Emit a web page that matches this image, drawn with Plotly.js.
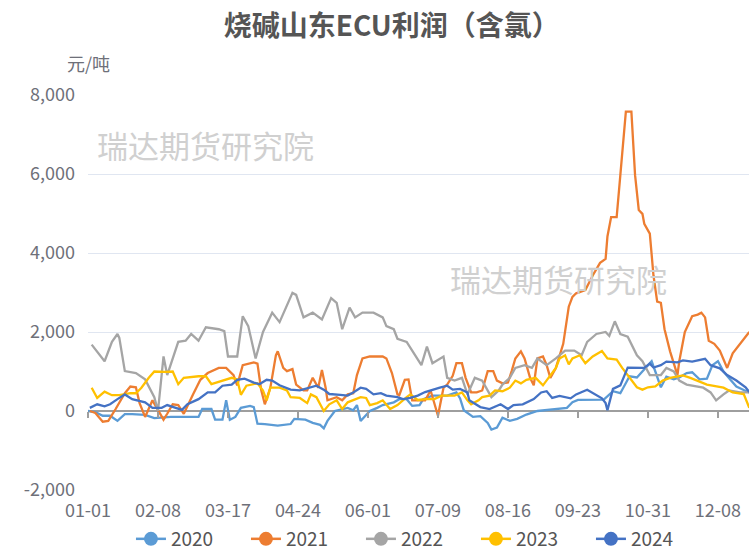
<!DOCTYPE html>
<html>
<head>
<meta charset="utf-8">
<script src="https://cdn.plot.ly/plotly-3.0.1.min.js"></script>
<style>
html,body{margin:0;padding:0;background:#fff;}
#chart{width:749px;height:558px;}
</style>
</head>
<body>
<div id="chart"></div>
<script>
// ---- axis ticks ----
const tickDays = [0,38,76,114,152,190,228,266,304,342];
const tickLabels = ['01-01','02-08','03-17','04-24','06-01','07-09','08-16','09-23','10-31','12-08'];
const yTickVals = [-2000,0,2000,4000,6000,8000];
const yTickText = ['-2,000','0','2,000','4,000','6,000','8,000'];

// ---- series (x = day offset from 01-01, y = 元/吨) ----
const seriesNames = ['2020','2021','2022','2023','2024'];
const seriesColors = ['#5b9bd5','#ed7d31','#a5a5a5','#ffc000','#4472c4'];

const days2020 = [0,4,8,12,16,20,24,31,36,45,60,62,67,69,73,75,77,80,83,88,90,92,96,103,110,112,118,122,126,128,130,134,141,144,146,148,150,153,157,160,166,169,173,176,180,182,187,195,200,202,204,209,213,217,219,222,225,229,233,238,244,249,255,260,263,266,280,282,285,289,292,294,298,301,304,306,308,311,314,318,321,325,328,332,336,339,342,345,349,352,356,359];
const vals2020 = [0,-30,-120,-120,-250,-80,-80,-100,-180,-150,-150,50,50,-220,-220,270,-220,-150,80,130,100,-320,-330,-370,-330,-200,-220,-300,-350,-440,-250,0,80,20,150,-250,-150,0,80,150,220,300,300,130,150,300,390,390,470,320,20,-150,-130,-300,-470,-420,-170,-250,-200,-90,0,20,50,80,220,280,290,380,500,450,700,880,850,1010,1150,1260,1000,600,870,800,850,960,980,800,820,1160,1260,1000,780,620,530,470];

const days2021 = [1,4,8,11,15,17,20,23,26,28,31,35,37,40,41,43,46,49,52,57,61,65,71,75,79,81,84,90,92,94,96,99,102,103,106,108,111,113,117,119,122,125,127,129,130,135,138,141,144,146,149,153,160,162,165,168,169,172,174,176,179,183,186,188,190,193,195,198,200,203,205,208,211,214,217,220,222,225,228,230,232,235,237,240,242,244,247,249,251,254,256,258,261,263,265,270,274,278,281,282,284,287,289,292,295,297,299,301,302,305,307,309,311,313,316,320,321,324,328,331,333,335,337,340,343,347,350,352,356,359];
const vals2021 = [0,-50,-270,-250,50,220,450,620,600,200,-150,270,100,-150,-220,-70,170,150,-70,420,790,960,1090,1090,910,650,1160,1230,1200,540,170,590,1410,1510,1090,1010,1060,670,520,520,840,590,1040,590,270,350,270,420,450,910,1330,1380,1380,1330,960,420,400,790,800,270,270,270,520,170,-120,590,670,890,1210,1210,840,470,470,520,1010,1010,770,700,720,1010,1330,1510,1330,840,650,1330,1380,1160,840,1090,1410,1700,2640,2890,2980,3060,3430,3750,3850,4420,4910,4910,5970,7580,7580,5970,5090,4990,4740,4490,3430,2770,2740,2070,1510,910,1260,2000,2400,2440,2490,2370,1780,1700,1530,1090,1460,1580,1830,2000];

const days2022 = [2,5,9,13,16,17,20,26,31,36,38,41,43,49,53,56,60,64,71,74,76,81,84,87,91,95,100,104,111,113,117,122,127,132,135,138,142,145,149,155,160,162,166,168,173,176,180,181,184,187,193,195,199,203,206,210,214,219,223,225,229,232,237,241,244,249,254,259,264,268,271,276,281,283,286,289,293,298,301,305,311,314,318,321,325,334,338,341,345,348,354,359];
const vals2022 = [1680,1500,1260,1750,1950,1850,1010,960,800,350,0,1380,910,1750,1780,1950,1780,2120,2070,2020,1380,1380,2400,2150,1330,2000,2490,2250,2990,2940,2370,2490,2320,2860,2740,2070,2620,2370,2490,2490,2370,2150,2070,1830,1750,1530,1210,1160,1630,1210,1380,840,770,840,420,840,770,350,520,670,840,1090,1160,1090,1330,1160,1330,1530,1530,1410,1750,1950,2000,1900,2270,1950,1880,1410,1260,910,910,1090,1000,770,670,590,470,270,420,520,470,470];

const days2023 = [2,5,9,13,17,23,26,29,33,36,42,46,49,52,60,64,67,73,78,81,83,86,92,95,97,99,104,108,110,115,119,121,124,128,131,135,138,141,144,148,151,153,157,160,164,168,173,175,179,183,188,192,199,203,206,208,212,214,218,221,225,229,232,235,238,243,247,251,254,256,259,261,263,267,270,274,279,282,287,290,294,298,301,304,308,312,316,323,327,331,336,342,345,350,356,359];
const vals2023 = [590,330,490,400,400,450,450,590,840,1000,990,1000,680,840,880,880,680,760,840,800,410,640,700,520,270,590,590,520,350,330,200,420,350,0,170,270,50,220,270,350,330,150,200,270,50,150,350,420,280,300,300,390,390,470,270,170,270,350,390,520,500,590,770,700,790,840,650,900,1090,1330,1410,1180,1330,1410,1210,1380,1520,1330,1300,1090,840,600,540,600,620,770,840,900,840,770,670,620,590,470,430,80];

const days2024 = [1,5,9,12,16,20,24,27,31,35,40,43,48,51,54,60,65,69,73,78,81,85,90,93,97,100,104,110,115,121,124,128,131,137,141,144,148,151,155,159,162,168,171,175,179,183,187,191,195,198,202,206,207,213,218,224,228,231,236,242,246,249,252,256,262,265,271,275,279,281,282,285,289,293,297,302,305,307,311,314,320,323,328,335,338,343,347,352,357,359];
const vals2024 = [80,170,120,170,300,420,300,270,220,80,80,150,80,30,170,300,470,470,640,670,790,820,720,680,790,770,650,540,520,590,640,540,430,410,390,470,590,560,420,450,390,350,300,330,390,480,540,590,640,540,560,470,270,100,50,170,50,150,170,300,470,500,330,380,320,420,540,420,320,200,20,560,650,1100,1090,1090,1200,1100,1160,1250,1230,1280,1250,1320,1160,1080,910,770,600,480];

const seriesDays = [days2020, days2021, days2022, days2023, days2024];
const seriesVals = [vals2020, vals2021, vals2022, vals2023, vals2024];

const FONT = 'Microsoft YaHei, "Noto Sans CJK SC", sans-serif';
const xRange = [0, 358.85];

const traces = [];
seriesNames.forEach((name, i) => {
  traces.push({
    type: 'scatter', mode: 'lines', name: name,
    x: seriesDays[i], y: seriesVals[i],
    line: {color: seriesColors[i], width: 2.3},
    showlegend: false, legendgroup: name, hoverinfo: 'x+y'
  });
});
seriesNames.forEach((name, i) => {
  traces.push({
    type: 'scatter', mode: 'lines+markers', name: name,
    x: [null], y: [null], xaxis: 'x2',
    line: {color: seriesColors[i], width: 2.5},
    marker: {color: seriesColors[i], size: 14},
    showlegend: true, legendgroup: name
  });
});

const layout = {
  width: 749, height: 558,
  margin: {l: 88, r: 0, t: 95, b: 58, pad: 0},
  paper_bgcolor: '#ffffff', plot_bgcolor: '#ffffff',
  font: {family: FONT, color: '#6e7079', size: 19},
  title: {
    text: '烧碱山东ECU利润（含氯）',
    font: {family: FONT, size: 28, color: '#555555', weight: 700},
    xref: 'container', yref: 'container',
    x: 0.523, xanchor: 'center', y: 0.953, yanchor: 'middle'
  },
  xaxis: {
    range: xRange, tickmode: 'array', tickvals: tickDays, ticktext: tickLabels,
    showgrid: false, zeroline: false, showline: false, ticks: '',
    tickfont: {family: FONT, size: 18, color: '#6e7079'},
    ticklabelstandoff: 8, fixedrange: true
  },
  xaxis2: {
    overlaying: 'x', anchor: 'free', position: 0.2, side: 'bottom',
    range: xRange, tickmode: 'array', tickvals: tickDays,
    showticklabels: false, ticks: 'outside', ticklen: 6, tickwidth: 1.5, tickcolor: '#9e9e9e',
    showgrid: false, zeroline: false, showline: false, fixedrange: true
  },
  yaxis: {
    range: [-2000, 8000], tickmode: 'array', tickvals: yTickVals, ticktext: yTickText,
    showgrid: true, gridcolor: '#e0e6f1', gridwidth: 1,
    zeroline: true, zerolinecolor: '#9e9e9e', zerolinewidth: 1.5,
    showline: false, ticks: '',
    tickfont: {family: FONT, size: 18, color: '#6e7079'},
    ticklabelstandoff: 12, fixedrange: true
  },
  legend: {
    orientation: 'h', x: 0.065, xanchor: 'left', y: -0.124, yanchor: 'middle',
    font: {family: FONT, size: 19, color: '#555555'},
    bgcolor: 'rgba(0,0,0,0)', itemclick: false, itemdoubleclick: false,
    entrywidthmode: 'pixels', entrywidth: 70
  },
  annotations: [
    {text: '元/吨', xref: 'paper', yref: 'paper', x: 0, y: 1.081, xanchor: 'center', yanchor: 'middle',
     showarrow: false, font: {family: FONT, size: 18, color: '#6e7079'}},
    {text: '瑞达期货研究院', xref: 'paper', yref: 'paper', x: 0.0106, y: 0.874, xanchor: 'left', yanchor: 'middle',
     showarrow: false, font: {family: FONT, size: 31, color: '#d0d0d0'}},
    {text: '瑞达期货研究院', xref: 'paper', yref: 'paper', x: 0.5446, y: 0.536, xanchor: 'left', yanchor: 'middle',
     showarrow: false, font: {family: FONT, size: 31, color: '#d0d0d0'}}
  ],
  showlegend: true
};

Plotly.newPlot('chart', traces, layout, {displayModeBar: false, staticPlot: true});
</script>
</body>
</html>
